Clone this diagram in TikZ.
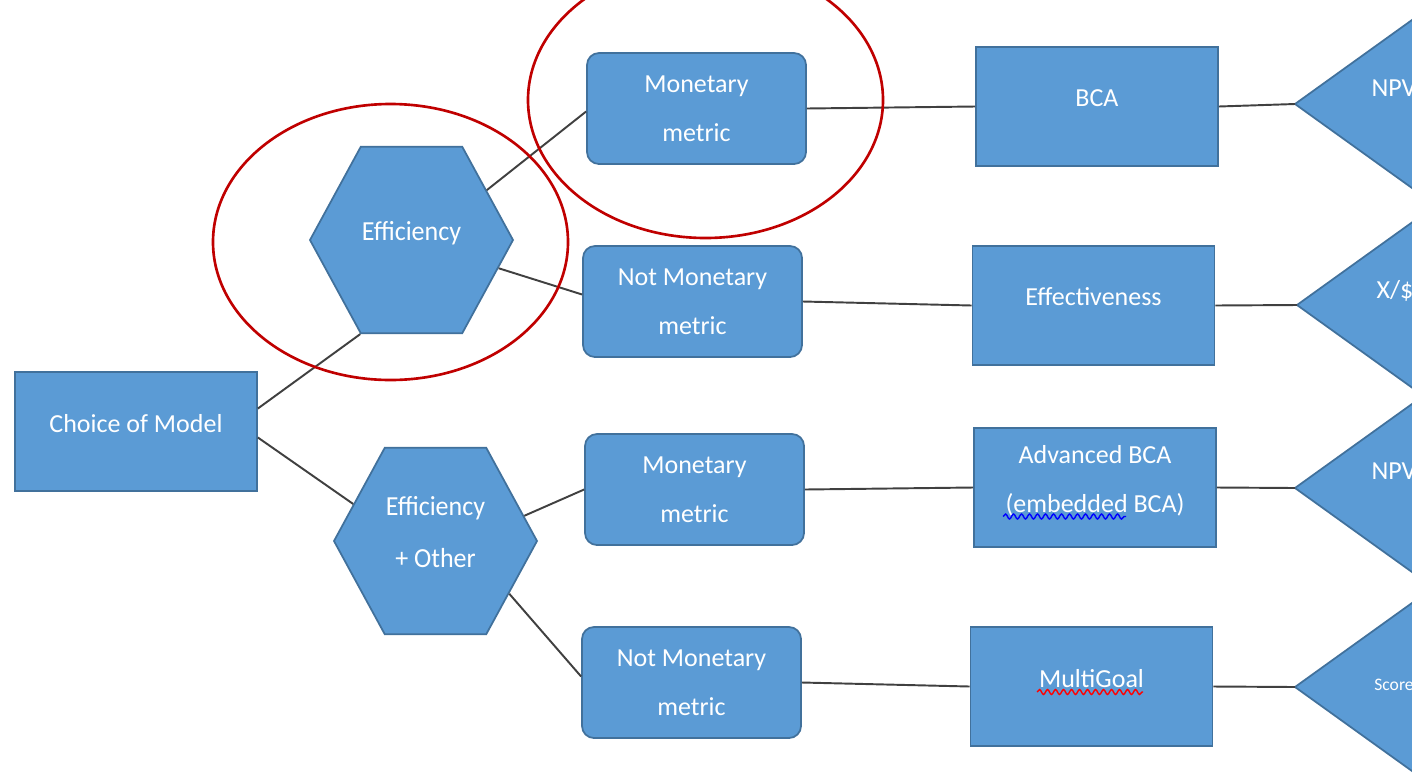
\documentclass[tikz,border=0pt]{standalone}
\usepackage{fontspec}
\setmainfont{Carlito}
\usepackage{tikz}
\definecolor{officeBlue}{RGB}{91,155,213}
\definecolor{officeEdge}{RGB}{65,113,156}
\definecolor{markRed}{RGB}{192,0,0}
\definecolor{wireGray}{RGB}{64,64,64}
\usetikzlibrary{shapes.geometric, positioning, decorations.pathmorphing}
\tikzset{
  bluefill/.style={fill=officeBlue, draw=officeEdge, line width=0.5pt, inner sep=0pt, align=center,
    text=white, font=\fontsize{7.4}{14}\selectfont},
  box/.style={bluefill, rectangle, minimum width=2.42cm, minimum height=1.19cm, text depth=1.7mm},
  metric/.style={bluefill, rectangle, rounded corners=1.2mm, minimum width=2.19cm, minimum height=1.11cm},
  hexa/.style={bluefill, regular polygon, regular polygon sides=6, minimum size=2.03cm, yscale=1.06, text depth=1.7mm},
  tritext/.style={text=white, inner sep=0pt, font=\fontsize{7.4}{9}\selectfont},
  wire/.style={draw=wireGray, line width=0.55pt},
  ring/.style={draw=markRed, line width=0.75pt},
  squiggle/.style={line width=0.4pt, decorate, decoration={snake, amplitude=0.25mm, segment length=0.8mm}}
}
\begin{document}
\begin{tikzpicture}
        \clip (0,0) rectangle (14.12,-7.79);
        \fill[white] (0,0) rectangle (14.12,-7.79);
        \node[box] (choice) at (1.36,-4.315) {Choice of Model};
        \node[hexa] (eff) at (4.115,-2.40) {Efficiency};
        \node[hexa] (eo) at (4.355,-5.41) {Efficiency\\+ Other};
        \node[metric] (mon1) at (6.965,-1.085) {Monetary\\metric};
        \node[metric] (nm1) at (6.925,-3.015) {Not Monetary\\metric};
        \node[metric] (mon2) at (6.945,-4.895) {Monetary\\metric};
        \node[metric] (nm2) at (6.915,-6.825) {Not Monetary\\metric};
        \node[box] (bca) at (10.97,-1.065) {BCA};
        \node[box] (effv) at (10.935,-3.055) {Effectiveness};
        \node[box] (adv) at (10.95,-4.875) {Advanced BCA\\(embedded BCA)};
        \node[box] (goal) at (10.915,-6.865) {MultiGoal};
        \draw[squiggle, blue] ([shift={(-0.92,-0.29)}]adv.center) -- ([shift={(0.31,-0.29)}]adv.center);
        \draw[squiggle, red] ([shift={(-0.545,-0.055)}]goal.center) -- ([shift={(0.515,-0.055)}]goal.center);
        \coordinate (tip1) at (12.95,-1.04);
        \coordinate (tip2) at (12.97,-3.05);
        \coordinate (tip3) at (12.95,-4.88);
        \coordinate (tip4) at (12.95,-6.87);
        \foreach \t in {tip1,tip2,tip3,tip4}
          \filldraw[fill=officeBlue, draw=officeEdge, line width=0.5pt] (\t) -- ++(2.2,1.58) -- ++(0,-3.16) -- cycle;
        \node[tritext] (npv1) at (13.94,-0.88) {NPV};
        \node[tritext] (ratio) at (13.95,-2.91) {X/\$};
        \node[tritext] (npv2) at (13.94,-4.71) {NPV};
        \node[tritext, font=\fontsize{5}{6}\selectfont] (score) at (13.94,-6.85) {Score};
        \draw[wire] ([yshift=2.3mm]choice.east) -- (eff.240);
        \draw[wire] ([yshift=-0.6mm]choice.east) -- (eo.157);
        \draw[wire] (eff.32) -- ([yshift=-0.3mm]mon1.west);
        \draw[wire] (eff.-17) -- ([yshift=0.7mm]nm1.west);
        \draw[wire] (eo.15) -- (mon2.west);
        \draw[wire] (eo.-34) -- ([yshift=0.6mm]nm2.west);
        \draw[wire] (mon1.east) -- (bca.west);
        \draw[wire] (nm1.east) -- (effv.west);
        \draw[wire] (mon2.east) -- (adv.west);
        \draw[wire] (nm2.east) -- (goal.west);
        \draw[wire] (bca.east) -- (tip1);
        \draw[wire] (effv.east) -- (tip2);
        \draw[wire] (adv.east) -- (tip3);
        \draw[wire] (goal.east) -- (tip4);
        \draw[ring] (3.905,-2.42) ellipse [x radius=1.775, y radius=1.38];
        \draw[ring] (7.055,-1.00) ellipse [x radius=1.775, y radius=1.38];
    \end{tikzpicture}
\end{document}
